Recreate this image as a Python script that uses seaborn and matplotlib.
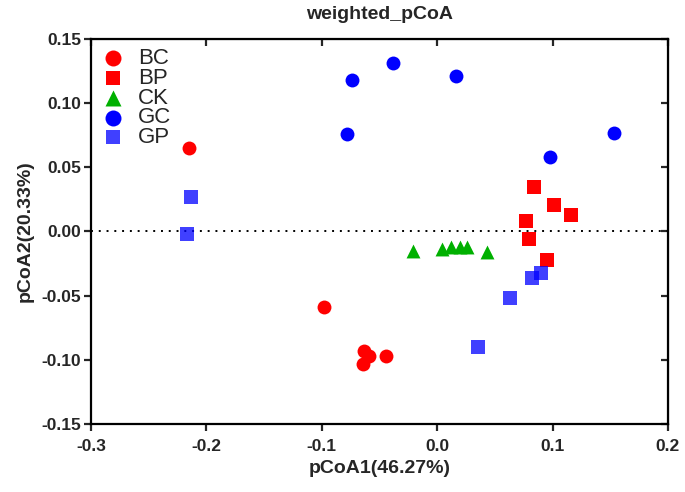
import numpy as np
import pandas as pd
import seaborn as sns
import matplotlib
matplotlib.use("Agg")
import matplotlib.pyplot as plt

# PCoA coordinates
groups = ["BC", "BP", "CK", "GC", "GP"]
bc_x = [-0.215, -0.098, -0.063, -0.059, -0.064, -0.044]
bc_y = [0.065, -0.059, -0.093, -0.097, -0.103, -0.097]
bp_x = [0.084, 0.101, 0.116, 0.077, 0.080, 0.095]
bp_y = [0.035, 0.021, 0.013, 0.008, -0.006, -0.022]
ck_x = [-0.021, 0.004, 0.012, 0.020, 0.026, 0.043]
ck_y = [-0.015, -0.014, -0.012, -0.012, -0.012, -0.016]
gc_x = [-0.078, -0.074, -0.038, 0.016, 0.098, 0.153]
gc_y = [0.076, 0.118, 0.131, 0.121, 0.058, 0.077]
gp_x = [-0.213, -0.217, 0.063, 0.082, 0.090, 0.035]
gp_y = [0.027, -0.002, -0.052, -0.036, -0.032, -0.090]

xs = [bc_x, bp_x, ck_x, gc_x, gp_x]
ys = [bc_y, bp_y, ck_y, gc_y, gp_y]
df = pd.concat([pd.DataFrame({"pc1": x, "pc2": y, "group": g})
                for g, x, y in zip(groups, xs, ys)], ignore_index=True)

palette = {"BC": "#ff0000", "BP": "#ff0000", "CK": "#00b000",
           "GC": "#0000ff", "GP": "#0000ff"}
markers = {"BC": "o", "BP": "s", "CK": "^", "GC": "o", "GP": "s"}

xticks = [-0.3, -0.2, -0.1, 0.0, 0.1, 0.2]
xticklabels = ["-0.3", "-0.2", "-0.1", "0.0", "0.1", "0.2"]
yticks = [-0.15, -0.10, -0.05, 0.0, 0.05, 0.10, 0.15]
yticklabels = ["-0.15", "-0.10", "-0.05", "0.00", "0.05", "0.10", "0.15"]

sns.set_style("white")
plt.rcParams["font.family"] = ["Liberation Sans", "DejaVu Sans"]

fig = plt.figure(figsize=(6.85, 4.92), dpi=100)
ax = fig.add_axes([0.133, 0.138, 0.842, 0.783])

ax.axhline(0, color="black", linestyle=(0, (1, 3)), linewidth=1.4, zorder=1)

# GP drawn semi-transparent, like the original
for g in groups:
    sub = df[df["group"] == g]
    sns.scatterplot(data=sub, x="pc1", y="pc2", color=palette[g], marker=markers[g],
                    s=100 if markers[g] != "s" else 88, linewidth=0,
                    alpha=0.75 if g == "GP" else 1.0, label=g, ax=ax, zorder=3)

ax.set_xlim(-0.3, 0.2)
ax.set_ylim(-0.15, 0.15)
ax.set_xticks(xticks)
ax.set_xticklabels(xticklabels)
ax.set_yticks(yticks)
ax.set_yticklabels(yticklabels)

for sp in ax.spines.values():
    sp.set_linewidth(1.6)
    sp.set_color("black")
ax.tick_params(axis="both", direction="out", length=5, width=1.6,
               labelsize=12.5, bottom=True, left=True)
ax.tick_params(axis="x", pad=6)
ax.tick_params(axis="y", pad=2)
for lab in ax.get_xticklabels() + ax.get_yticklabels():
    lab.set_fontweight("bold")

# mirrored inward ticks on top and right
top = ax.secondary_xaxis("top")
top.set_xticks(xticks)
top.tick_params(direction="in", length=5, width=1.6, labeltop=False)
right = ax.secondary_yaxis("right")
right.set_yticks(yticks)
right.tick_params(direction="in", length=5, width=1.6, labelright=False)

ax.set_xlabel("pCoA1(46.27%)", fontsize=14, fontweight="bold", labelpad=4)
ax.set_ylabel("pCoA2(20.33%)", fontsize=14, fontweight="bold", labelpad=6)
ax.set_title("weighted_pCoA", fontsize=14, fontweight="bold", pad=14)

leg = ax.legend(loc="upper left", frameon=False, fontsize=16, labelspacing=-0.05,
                handletextpad=0.5, borderaxespad=0.2, markerscale=1.15,
                borderpad=0.2, handlelength=1.2)

fig.savefig("out.png", dpi=100)
